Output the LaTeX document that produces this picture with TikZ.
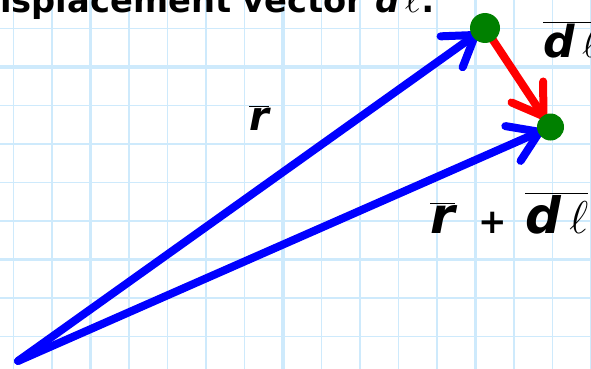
\documentclass[tikz,border=0pt]{standalone}
\usepackage{fix-cm}
\usepackage{fontspec}
\setmainfont{DejaVu Sans}
\usetikzlibrary{arrows.meta}
\definecolor{gridblue}{RGB}{206,234,252}
\definecolor{dotgreen}{RGB}{0,128,0}
\definecolor{vecblue}{RGB}{0,0,255}
\definecolor{vecred}{RGB}{255,0,0}
\begin{document}
\begin{tikzpicture}[x=1pt,y=-1pt,
  gridline/.style={gridblue, line width=1.3pt},
  gridthick/.style={gridblue, line width=3.5pt},
  vec/.style={line width=8pt, line cap=round, -{Straight Barb[length=29pt,width=38pt,round]}},
  dot/.style={circle, fill=dotgreen, inner sep=0pt},
  lbl/.style={inner sep=0pt, anchor=base west}]
\useasboundingbox (0,0) rectangle (591,369);
% grid
\foreach \k in {0,...,15} \draw[gridline] ({13.5+38.5*\k},0) -- ++(0,369);
\foreach \k in {0,...,8} \draw[gridline] (0,{28.5+38.5*\k}) -- ++(591,0);
\foreach \xx in {90.5,283,475.5} \draw[gridthick] (\xx,0) -- ++(0,369);
\foreach \yy in {67,259.5} \draw[gridthick] (0,\yy) -- ++(591,0);
% title
\node[lbl, font=\fontsize{33.7}{34}\selectfont\bfseries] (title) at (-28,13)
  {Displacement vector {\itshape d}\,{\fontsize{40}{40}\selectfont$\ell$}:};
% points
\coordinate (O) at (18,361);
\coordinate (pA) at (485,28);
\coordinate (pB) at (550.5,127);
% vectors
\draw[vec, vecblue, shorten >=8pt] (O) -- (pA);
\draw[vec, vecblue, shorten >=8pt] (O) -- (pB);
\draw[vec, vecred, shorten >=9pt] (pA) -- (pB);
% dots
\node[dot, minimum size=30pt] (A) at (pA) {};
\node[dot, minimum size=27pt] (B) at (pB) {};
% labels
\node[lbl, font=\fontsize{40}{40}\selectfont\bfseries\itshape] (rlab) at (249,130)
  {$\overline{\mbox{r}}$};
\node[lbl, font=\fontsize{44}{44}\selectfont\bfseries\itshape] (dllab) at (543,57)
  {$\overline{\mbox{d\,{\fontsize{40}{40}\selectfont$\ell$}}}$};
\node[lbl, font=\fontsize{50}{50}\selectfont\bfseries\itshape] (sumlab) at (430,233)
  {$\overline{\mbox{r}}$\hspace{24pt}{\fontsize{34}{34}\selectfont\upshape +}\hspace{18pt}$\overline{\mbox{d\,{\fontsize{46}{46}\selectfont$\ell$}}}$};
\end{tikzpicture}
\end{document}
